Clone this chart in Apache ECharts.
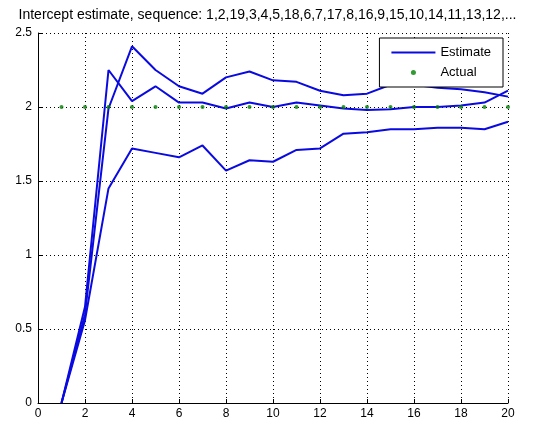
<!DOCTYPE html>
<html>
<head>
<meta charset="utf-8">
<script src="https://cdn.jsdelivr.net/npm/echarts@6/dist/echarts.min.js"></script>
<style>html,body{margin:0;padding:0;background:#fff;}#c{width:535px;height:425px;}</style>
</head>
<body>
<div id="c"></div>
<script>
const xs = [1,2,3,4,5,6,7,8,9,10,11,12,13,14,15,16,17,18,19,20];
const upper  = [0,0.60,1.99,2.41,2.25,2.14,2.09,2.20,2.24,2.18,2.17,2.11,2.08,2.09,2.15,2.15,2.13,2.12,2.10,2.07];
const middle = [0,0.65,2.25,2.04,2.14,2.03,2.03,1.99,2.03,2.00,2.03,2.01,1.99,1.98,1.985,2.00,2.00,2.01,2.03,2.11];
const lower  = [0,0.56,1.45,1.72,1.69,1.66,1.74,1.57,1.64,1.63,1.71,1.72,1.82,1.83,1.85,1.85,1.86,1.86,1.85,1.90];
const actual = [2,2,2,2,2,2,2,2,2,2,2,2,2,2,2,2,2,2,2,2];
const xTicks = [0,2,4,6,8,10,12,14,16,18,20];
const yTicks = [0,0.5,1,1.5,2,2.5];
const titleText = 'Intercept estimate, sequence: 1,2,19,3,4,5,18,6,7,17,8,16,9,15,10,14,11,13,12,...';

const pairs = a => xs.map((x,i)=>[x,a[i]]);
const font = 'Liberation Sans, Arial, sans-serif';
const blue = '#0a0ae0';
const lineSeries = (d) => ({
  name: 'Estimate', type: 'line', data: pairs(d), symbol: 'none',
  lineStyle: {color: blue, width: 2}, itemStyle: {color: blue}, z: 3
});

const chart = echarts.init(document.getElementById('c'), null, {renderer: 'canvas'});
chart.setOption({
  animation: false,
  backgroundColor: '#fff',
  title: {
    text: titleText, left: 'center', top: 3,
    textStyle: {fontFamily: font, fontSize: 14, fontWeight: 'normal', color: '#000'}
  },
  grid: {left: 38, right: 27, top: 33, bottom: 22},
  legend: {
    orient: 'vertical', right: 32, top: 38,
    backgroundColor: '#fff', borderColor: '#000', borderWidth: 1,
    padding: [8, 12, 8, 12], itemGap: 7, itemWidth: 44, itemHeight: 5,
    textStyle: {fontFamily: font, fontSize: 13, color: '#000'},
    data: [{name: 'Estimate', icon: 'path://M0 0 H44 V2 H0 Z'}, {name: 'Actual', icon: 'circle'}]
  },
  xAxis: {
    type: 'value', min: 0, max: 20, interval: 2,
    axisLine: {onZero: false, lineStyle: {color: '#000', width: 1}},
    axisTick: {inside: true, length: 4, lineStyle: {color: '#000'}},
    axisLabel: {color: '#000', fontFamily: font, fontSize: 12, margin: 5,
      formatter: v => xTicks.includes(v) ? String(v) : ''},
    splitLine: {show: true, lineStyle: {color: '#000', type: [1, 3], width: 1}}
  },
  yAxis: {
    type: 'value', min: 0, max: 2.5, interval: 0.5,
    axisLine: {show: true, onZero: false, lineStyle: {color: '#000', width: 1}},
    axisTick: {show: true, inside: true, length: 4, lineStyle: {color: '#000'}},
    axisLabel: {color: '#000', fontFamily: font, fontSize: 12, margin: 6,
      formatter: v => yTicks.includes(v) ? String(v) : ''},
    splitLine: {show: true, lineStyle: {color: '#000', type: [1, 3], width: 1}}
  },
  series: [
    lineSeries(upper),
    lineSeries(middle),
    lineSeries(lower),
    {
      name: 'Actual', type: 'scatter', data: pairs(actual),
      symbol: 'circle', symbolSize: 4,
      itemStyle: {color: '#008000'}, z: 4
    }
  ]
});
</script>
</body>
</html>
